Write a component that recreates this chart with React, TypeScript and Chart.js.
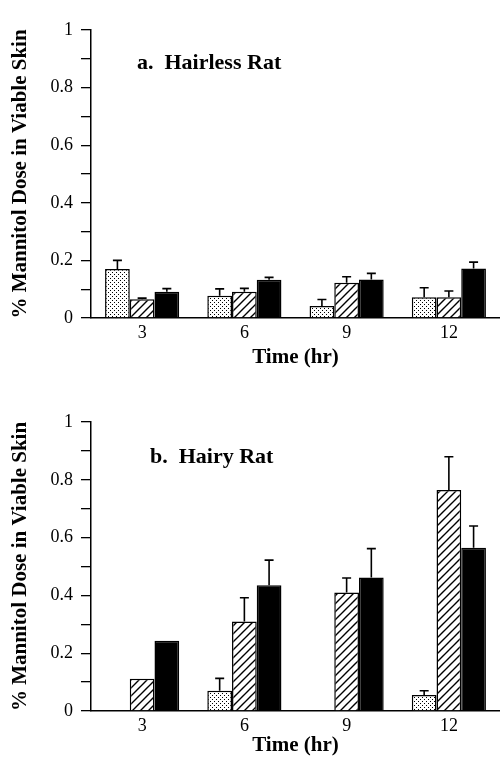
import React, { useEffect, useRef } from 'react';
import { Chart, registerables } from 'chart.js';

Chart.register(...registerables);

// ---------- data ----------
const categories = ['3', '6', '9', '12'];
const seriesNames = ['Dotted', 'Hatched', 'Solid'];
const yTickLabels = ['0', '0.2', '0.4', '0.6', '0.8', '1'];

// a. Hairless Rat
const hairlessDotted = [0.17, 0.077, 0.042, 0.072];
const hairlessDottedErr = [0.03, 0.024, 0.022, 0.033];
const hairlessHatched = [0.065, 0.091, 0.122, 0.072];
const hairlessHatchedErr = [0.004, 0.012, 0.021, 0.022];
const hairlessSolid = [0.091, 0.133, 0.134, 0.172];
const hairlessSolidErr = [0.011, 0.008, 0.021, 0.022];

// b. Hairy Rat
const hairyDotted = [null, 0.07, null, 0.055];
const hairyDottedErr = [0, 0.043, 0, 0.015];
const hairyHatched = [0.112, 0.31, 0.41, 0.765];
const hairyHatchedErr = [0, 0.082, 0.05, 0.115];
const hairySolid = [0.243, 0.435, 0.462, 0.565];
const hairySolidErr = [0, 0.087, 0.1, 0.075];

const FONT = "'Liberation Serif', 'Times New Roman', serif";

function makeStipple(): CanvasPattern | string {
  const c = document.createElement('canvas');
  c.width = 4;
  c.height = 4;
  const g = c.getContext('2d');
  if (!g) return '#ddd';
  g.fillStyle = '#fff';
  g.fillRect(0, 0, 4, 4);
  g.fillStyle = '#000';
  g.fillRect(0, 0, 1, 1);
  g.fillRect(2, 2, 1, 1);
  return g.createPattern(c, 'repeat') || '#ddd';
}

function makeHatch(): CanvasPattern | string {
  const s = 8;
  const c = document.createElement('canvas');
  c.width = s;
  c.height = s;
  const g = c.getContext('2d');
  if (!g) return '#aaa';
  g.fillStyle = '#fff';
  g.fillRect(0, 0, s, s);
  g.strokeStyle = '#000';
  g.lineWidth = 1.4;
  g.beginPath();
  g.moveTo(-1, s + 1);
  g.lineTo(s + 1, -1);
  g.moveTo(-1, 1);
  g.lineTo(1, -1);
  g.moveTo(s - 1, s + 1);
  g.lineTo(s + 1, s - 1);
  g.stroke();
  return g.createPattern(c, 'repeat') || '#aaa';
}

const errorBarPlugin = {
  id: 'errorBars',
  afterDatasetsDraw(chart: any, _args: any, opts: any) {
    const errs = opts && opts.errors;
    if (!errs) return;
    const ctx = chart.ctx;
    const ys = chart.scales.y;
    ctx.save();
    ctx.strokeStyle = '#000';
    ctx.lineWidth = 1.6;
    chart.data.datasets.forEach((ds: any, i: number) => {
      const meta = chart.getDatasetMeta(i);
      meta.data.forEach((bar: any, j: number) => {
        const v = ds.data[j];
        const e = errs[i] ? errs[i][j] : 0;
        if (v == null || !e) return;
        const x = bar.x;
        const y0 = ys.getPixelForValue(v);
        const y1 = ys.getPixelForValue(v + e);
        ctx.beginPath();
        ctx.moveTo(x, y0);
        ctx.lineTo(x, y1);
        ctx.moveTo(x - 4.5, y1);
        ctx.lineTo(x + 4.5, y1);
        ctx.stroke();
      });
    });
    ctx.restore();
  },
};

const panelLabelPlugin = {
  id: 'panelLabel',
  afterDraw(chart: any, _args: any, opts: any) {
    if (!opts || !opts.text) return;
    const ctx = chart.ctx;
    const area = chart.chartArea;
    ctx.save();
    ctx.fillStyle = '#000';
    ctx.font = `bold 22px ${FONT}`;
    ctx.textAlign = 'left';
    ctx.textBaseline = 'middle';
    ctx.fillText(opts.text, area.left + opts.dx, area.top + opts.dy);
    ctx.restore();
  },
};

type PanelProps = {
  label: string;
  labelDx: number;
  labelDy: number;
  dotted: (number | null)[];
  hatched: (number | null)[];
  solid: (number | null)[];
  errors: number[][];
  padTop: number;
  xHeight: number;
  xTitlePadBottom: number;
};

function Panel(p: PanelProps) {
  const ref = useRef<HTMLCanvasElement | null>(null);
  useEffect(() => {
    if (!ref.current) return;
    const stipple = makeStipple();
    const hatch = makeHatch();
    const chart = new Chart(ref.current, {
      type: 'bar',
      data: {
        labels: categories,
        datasets: [
          { label: seriesNames[0], data: p.dotted, backgroundColor: stipple as any, borderColor: '#000', borderWidth: 1.5 },
          { label: seriesNames[1], data: p.hatched, backgroundColor: hatch as any, borderColor: '#000', borderWidth: 1.5 },
          { label: seriesNames[2], data: p.solid, backgroundColor: '#000', borderColor: '#000', borderWidth: 1.5 },
        ],
      },
      options: {
        responsive: false,
        animation: false,
        devicePixelRatio: 1,
        layout: { padding: { top: p.padTop, right: 0, left: 0, bottom: 0 } },
        datasets: { bar: { categoryPercentage: 0.725, barPercentage: 1 } },
        plugins: {
          legend: { display: false },
          tooltip: { enabled: false },
          errorBars: { errors: p.errors },
          panelLabel: { text: p.label, dx: p.labelDx, dy: p.labelDy },
        } as any,
        scales: {
          x: {
            type: 'category',
            grid: { display: false, drawTicks: false, tickLength: 0 },
            border: { display: true, color: '#000', width: 1.5 },
            ticks: { color: '#000', font: { family: FONT, size: 18 }, padding: 4 },
            title: {
              display: true,
              text: 'Time (hr)',
              color: '#000',
              font: { family: FONT, size: 21, weight: 'bold' },
              padding: { top: 0, bottom: p.xTitlePadBottom },
            },
            afterFit: (s: any) => {
              s.height = p.xHeight;
            },
          },
          y: {
            min: 0,
            max: 1,
            ticks: {
              stepSize: 0.1,
              color: '#000',
              font: { family: FONT, size: 18 },
              padding: 8,
              callback: (v: any) => {
                const k = Math.round(Number(v) * 10);
                return k % 2 === 0 ? yTickLabels[k / 2] : '';
              },
            },
            grid: { drawOnChartArea: false, color: '#000', lineWidth: 1.3, tickLength: 10 },
            border: { color: '#000', width: 1.5 },
            title: {
              display: true,
              text: '% Mannitol Dose in Viable Skin',
              color: '#000',
              font: { family: FONT, size: 21, weight: 'bold' },
              padding: { top: 8, bottom: 0 },
            },
            afterFit: (s: any) => {
              s.width = 91;
            },
          },
        },
      },
      plugins: [errorBarPlugin, panelLabelPlugin],
    });
    return () => chart.destroy();
  }, []);
  return (
    <div style={{ width: 500, height: 379, position: 'relative' }}>
      <canvas ref={ref} width={500} height={379} style={{ display: 'block' }} />
    </div>
  );
}

export default function App() {
  return (
    <div style={{ position: 'absolute', left: 0, top: 0, width: 500, height: 758, background: '#fff' }}>
      <Panel
        label="a.  Hairless Rat"
        labelDx={46}
        labelDy={33}
        dotted={hairlessDotted}
        hatched={hairlessHatched}
        solid={hairlessSolid}
        errors={[hairlessDottedErr, hairlessHatchedErr, hairlessSolidErr]}
        padTop={30}
        xHeight={61}
        xTitlePadBottom={9}
      />
      <Panel
        label="b.  Hairy Rat"
        labelDx={59}
        labelDy={35}
        dotted={hairyDotted}
        hatched={hairyHatched}
        solid={hairySolid}
        errors={[hairyDottedErr, hairyHatchedErr, hairySolidErr]}
        padTop={43}
        xHeight={47}
        xTitlePadBottom={0}
      />
    </div>
  );
}
